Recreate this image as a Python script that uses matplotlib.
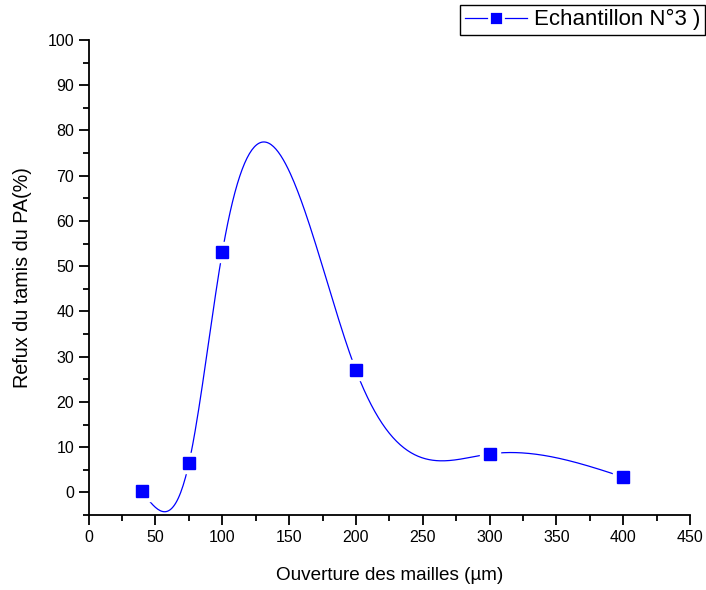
import numpy as np
import matplotlib.pyplot as plt
from matplotlib.ticker import MultipleLocator

# sieve data
ouverture = [40, 75, 100, 200, 300, 400]
refus = [0.2, 6.4, 53.1, 27.0, 8.5, 3.4]

plt.rcParams['font.family'] = ['Liberation Sans', 'DejaVu Sans']


def natural_spline(x, y, n=400):
    # natural cubic spline, like Origin's "spline" line connection
    x = np.asarray(x, float)
    y = np.asarray(y, float)
    m = len(x)
    h = np.diff(x)
    A = np.zeros((m, m))
    b = np.zeros(m)
    A[0, 0] = A[-1, -1] = 1
    for i in range(1, m - 1):
        A[i, i - 1] = h[i - 1]
        A[i, i] = 2 * (h[i - 1] + h[i])
        A[i, i + 1] = h[i]
        b[i] = 6 * ((y[i + 1] - y[i]) / h[i] - (y[i] - y[i - 1]) / h[i - 1])
    M = np.linalg.solve(A, b)
    xs = np.linspace(x[0], x[-1], n)
    idx = np.clip(np.searchsorted(x, xs) - 1, 0, m - 2)
    x0, x1 = x[idx], x[idx + 1]
    hh = x1 - x0
    t0, t1 = x1 - xs, xs - x0
    ys = (M[idx] * t0**3 + M[idx + 1] * t1**3) / (6 * hh) \
        + (y[idx] / hh - M[idx] * hh / 6) * t0 \
        + (y[idx + 1] / hh - M[idx + 1] * hh / 6) * t1
    return xs, ys


xs, ys = natural_spline(ouverture, refus)

fig = plt.figure(figsize=(7.06, 5.9), dpi=100)
ax = fig.add_axes([0.1256, 0.1271, 0.8517, 0.8051])

ax.plot(xs, ys, color='#0000ff', lw=0.9, zorder=2)
# white halo so the line stops short of each marker
ax.plot(ouverture, refus, ls='none', marker='s', ms=14, color='white', zorder=3)
ax.plot(ouverture, refus, ls='none', marker='s', ms=8, color='#0000ff', zorder=4)

ax.set_xlim(0, 450)
ax.set_ylim(-5, 100)
ax.xaxis.set_major_locator(MultipleLocator(50))
ax.xaxis.set_minor_locator(MultipleLocator(25))
ax.yaxis.set_major_locator(MultipleLocator(10))
ax.yaxis.set_minor_locator(MultipleLocator(5))
ax.tick_params(which='both', direction='out', width=1.3, labelsize=11.5)
ax.tick_params(which='major', length=7)
ax.tick_params(which='minor', length=4)
for s in ['top', 'right']:
    ax.spines[s].set_visible(False)
for s in ['left', 'bottom']:
    ax.spines[s].set_linewidth(1.3)

ax.set_xlabel('Ouverture des mailles (µm)', fontsize=13.6, labelpad=16)
ax.set_ylabel('Refux du tamis du PA(%)', fontsize=14.2, labelpad=11)

h, = ax.plot([], [], color='#0000ff', lw=0.9, marker='s', ms=10,
             mec='white', mew=2)
leg = fig.legend([h], ['Echantillon N°3 )'], loc='upper right',
                 bbox_to_anchor=(0.998, 0.992), borderaxespad=0,
                 fontsize=16, fancybox=False,
                 edgecolor='black', framealpha=1, borderpad=0.2,
                 handlelength=2.8, handletextpad=0.3)
leg.get_frame().set_linewidth(1.0)

fig.savefig('out.png', dpi=100)
